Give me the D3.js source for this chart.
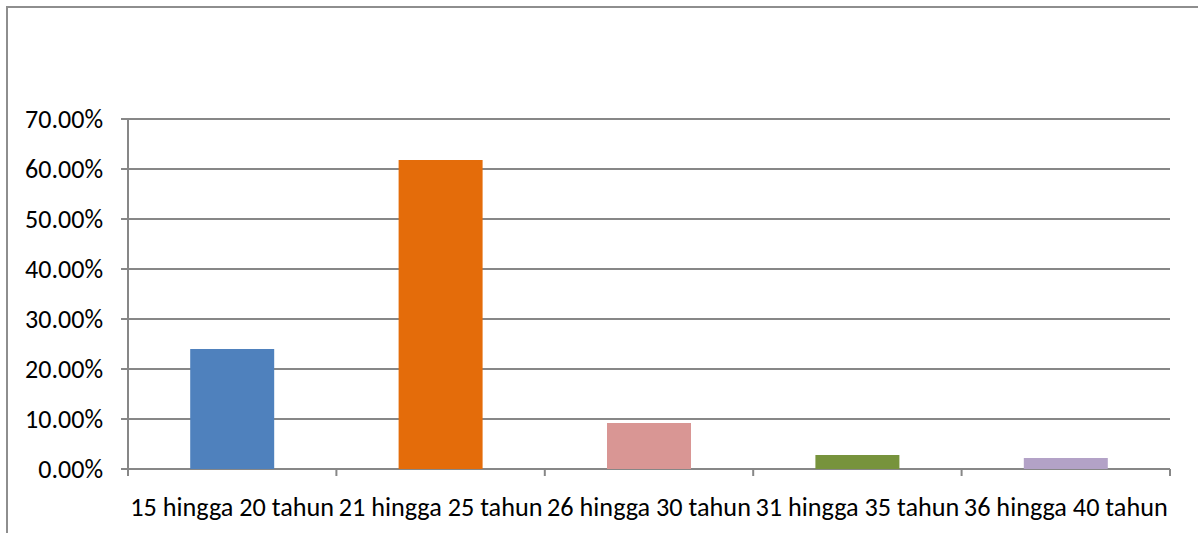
<!DOCTYPE html>
<html><head><meta charset="utf-8">
<script src="https://cdn.jsdelivr.net/npm/d3@7"></script>
<style>body{margin:0;background:#fff;}svg{display:block;}</style>
</head><body>
<svg id="c" width="1198" height="533"></svg>
<script>
const categories = ["15 hingga 20 tahun","21 hingga 25 tahun","26 hingga 30 tahun","31 hingga 35 tahun","36 hingga 40 tahun"];
const values = [0.240, 0.618, 0.092, 0.028, 0.022];
const colors = ["#4f81bd","#e46c0a","#d99694","#77933c","#b3a2c7"];
const yTicks = [0,0.1,0.2,0.3,0.4,0.5,0.6,0.7];

const svg = d3.select("#c");
const font = "Carlito, Calibri, 'Liberation Sans Narrow', 'Open Sans', sans-serif";
const grid = "#878787";

svg.append("rect").attr("x",7).attr("y",7).attr("width",1200).attr("height",540)
  .attr("fill","none").attr("stroke","#8e8e8e").attr("stroke-width",2);

const L=128, R=1170, T=119, B=469;
const x = d3.scaleBand().domain(categories).range([L,R]).paddingInner(0.597).paddingOuter(0.2985);
const xb = d3.scaleBand().domain(categories).range([L,R]);
const y = d3.scaleLinear().domain([0,0.7]).range([B,T]);

svg.append("g").selectAll("line").data(yTicks).join("line")
  .attr("x1",L-7).attr("x2",R).attr("y1",d=>y(d)).attr("y2",d=>y(d))
  .attr("stroke",grid).attr("stroke-width",2);

svg.append("line").attr("x1",L).attr("x2",L).attr("y1",T).attr("y2",B+7)
  .attr("stroke",grid).attr("stroke-width",2);

const bounds = categories.map(c=>xb(c)).concat([R]);
svg.append("g").selectAll("line").data(bounds).join("line")
  .attr("x1",d=>d).attr("x2",d=>d).attr("y1",B).attr("y2",B+7)
  .attr("stroke",grid).attr("stroke-width",2);

svg.append("g").selectAll("rect").data(values).join("rect")
  .attr("x",(d,i)=>x(categories[i])).attr("width",x.bandwidth())
  .attr("y",d=>y(d)).attr("height",d=>B-y(d))
  .attr("fill",(d,i)=>colors[i]);

const yl = svg.append("g").selectAll("text").data(yTicks).join("text")
  .attr("x",103).attr("y",d=>y(d)).attr("dy","0.35em")
  .attr("text-anchor","end").attr("font-family",font).attr("font-size",20).attr("fill","#000")
  .text(d=>d3.format(".2%")(d));

const xl = svg.append("g").selectAll("text").data(categories).join("text")
  .attr("x",d=>xb(d)+xb.bandwidth()/2).attr("y",507).attr("dy","0.35em")
  .attr("text-anchor","middle").attr("font-family",font).attr("font-size",20).attr("fill","#000")
  .text(d=>d);

function fit(sel, idx, target){
  const n = sel.nodes()[idx];
  const w = n.getComputedTextLength();
  sel.attr("font-size",20*target/w);
}
fit(yl,yTicks.length-1,78);
fit(xl,0,204);
</script>
</body></html>
